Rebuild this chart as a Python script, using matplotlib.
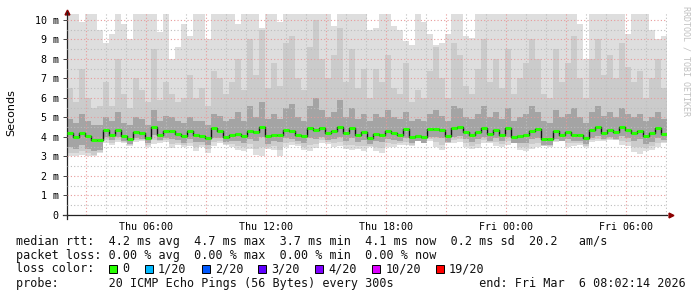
import numpy as np
import pandas as pd
import matplotlib
matplotlib.use("Agg")
import matplotlib.pyplot as plt
import matplotlib.dates as mdates
import matplotlib.ticker as ticker
from matplotlib.patches import Rectangle

# ping rtt in ms, one value per 18 min bin
med = [4.19, 3.98, 4.19, 4.05, 3.85, 3.87, 4.36, 4.12, 4.36, 4.05,
       3.90, 4.25, 4.22, 3.95, 4.50, 4.10, 4.33, 4.30, 4.15, 4.05,
       4.33, 4.10, 4.05, 3.95, 4.45,
       4.32, 4.02, 4.10, 4.15, 4.07, 4.32, 4.27, 4.53, 4.05, 4.12,
       4.10, 4.36, 4.32, 4.10, 4.05, 4.44, 4.36, 4.44, 4.22, 4.32,
       4.53, 4.19, 4.44, 4.10, 4.27,
       3.95, 4.15, 4.10, 4.32, 4.22, 4.10, 4.39, 4.02, 4.07, 3.98,
       4.39, 4.39, 4.36, 4.05, 4.44, 4.53, 4.27, 4.10, 4.27, 4.44,
       4.15, 4.36, 4.10, 4.44, 4.02,
       4.05, 4.08, 4.32, 4.42, 3.90, 3.88, 4.32, 4.10, 4.27, 4.10,
       4.10, 3.93, 4.36, 4.49, 4.22, 4.36, 4.27, 4.49, 4.36, 4.19,
       4.32, 4.05, 4.19, 4.44, 4.15]
low = [3.0, 3.05, 3.1, 3.05, 3.0, 3.2, 3.7, 3.6, 3.75, 3.7,
       3.55, 3.75, 3.8, 3.5, 3.65, 3.7, 3.75, 3.45, 3.6, 3.5,
       3.55, 3.3, 3.5, 3.2, 3.55,
       3.7, 3.6, 3.5, 3.35, 3.3, 3.4, 3.1, 3.0, 3.4, 3.35,
       3.0, 3.5, 3.6, 3.55, 3.35, 3.3, 3.45, 3.7, 3.65, 3.5,
       3.55, 3.4, 3.35, 3.4, 3.3,
       3.5, 3.3, 3.2, 3.5, 3.5, 3.6, 3.6, 3.55, 3.8, 3.75,
       3.8, 3.5, 3.35, 3.7, 3.7, 3.75, 3.5, 3.4, 3.45, 3.7,
       3.7, 3.55, 3.5, 3.6, 3.7,
       3.35, 3.3, 3.4, 3.5, 3.55, 3.5, 3.75, 3.8, 3.5, 3.55,
       3.6, 3.5, 3.75, 3.8, 3.8, 3.85, 3.85, 3.6, 3.55, 3.25,
       3.15, 3.3, 3.35, 3.5, 3.7]
q10 = [3.2, 3.2, 3.3, 3.2, 3.1, 3.25, 3.85, 3.7, 3.85, 3.75,
       3.6, 3.85, 3.85, 3.6, 3.85, 3.8, 3.85, 3.65, 3.7, 3.6,
       3.7, 3.5, 3.6, 3.4, 3.75,
       3.8, 3.65, 3.65, 3.55, 3.5, 3.65, 3.4, 3.5, 3.5, 3.55,
       3.35, 3.7, 3.75, 3.65, 3.5, 3.6, 3.65, 3.85, 3.75, 3.7,
       3.75, 3.6, 3.6, 3.55, 3.55,
       3.55, 3.5, 3.45, 3.7, 3.65, 3.7, 3.75, 3.6, 3.8, 3.75,
       3.9, 3.75, 3.6, 3.7, 3.85, 3.9, 3.7, 3.55, 3.65, 3.85,
       3.75, 3.75, 3.65, 3.8, 3.7,
       3.5, 3.5, 3.65, 3.7, 3.55, 3.55, 3.8, 3.8, 3.7, 3.7,
       3.7, 3.55, 3.85, 3.9, 3.85, 3.9, 3.85, 3.8, 3.75, 3.5,
       3.5, 3.45, 3.55, 3.7, 3.75]
q25 = [3.5, 3.4, 3.6, 3.4, 3.3, 3.35, 4.0, 3.85, 4.0, 3.8,
       3.65, 3.95, 3.9, 3.7, 4.1, 3.85, 3.95, 3.9, 3.85, 3.7,
       3.9, 3.75, 3.75, 3.6, 3.95,
       3.95, 3.75, 3.8, 3.8, 3.7, 3.9, 3.8, 4.0, 3.65, 3.8,
       3.75, 3.95, 3.9, 3.8, 3.7, 3.95, 3.9, 4.0, 3.85, 3.9,
       4.0, 3.8, 3.95, 3.75, 3.85,
       3.65, 3.8, 3.75, 3.9, 3.85, 3.8, 3.95, 3.7, 3.8, 3.7,
       4.0, 4.0, 3.95, 3.75, 4.0, 4.05, 3.9, 3.75, 3.9, 4.0,
       3.8, 3.95, 3.8, 4.0, 3.7,
       3.7, 3.7, 3.9, 3.95, 3.6, 3.6, 3.9, 3.8, 3.9, 3.8,
       3.8, 3.65, 3.95, 4.05, 3.9, 4.0, 3.9, 4.05, 3.95, 3.8,
       3.9, 3.65, 3.75, 3.95, 3.85]
q75 = [4.9, 4.7, 5.2, 4.8, 4.6, 4.6, 5.0, 4.8, 5.3, 4.7,
       4.6, 5.0, 4.9, 4.6, 5.4, 4.8, 5.1, 5.0, 4.8, 4.7,
       5.0, 4.8, 4.8, 4.6, 5.2,
       5.1, 4.8, 4.9, 5.3, 4.8, 5.6, 5.0, 5.8, 4.9, 5.2,
       4.9, 5.5, 5.7, 5.0, 4.8, 5.6, 6.0, 5.4, 5.0, 5.3,
       5.9, 5.0, 5.5, 4.9, 5.2,
       4.8, 5.2, 5.0, 5.4, 5.0, 4.9, 5.3, 4.8, 4.9, 4.8,
       5.2, 5.4, 5.1, 4.8, 5.6, 5.5, 5.0, 4.9, 5.2, 5.6,
       5.0, 5.3, 4.9, 5.5, 4.8,
       5.0, 5.2, 5.6, 5.3, 4.8, 4.7, 5.4, 5.0, 5.2, 5.5,
       5.0, 4.7, 5.3, 5.6, 5.1, 5.3, 5.0, 5.5, 5.2, 5.0,
       5.2, 4.8, 5.0, 5.3, 4.9]
q90 = [6.5, 5.8, 7.5, 6.0, 5.5, 5.6, 6.8, 5.6, 8.0, 6.2,
       5.5, 7.0, 6.4, 5.8, 8.5, 5.9, 6.8, 6.2, 5.8, 6.0,
       7.2, 6.0, 6.5, 5.6, 7.4,
       7.0, 6.2, 6.8, 8.0, 6.4, 9.0, 7.2, 9.5, 6.5, 7.8,
       6.6, 8.8, 9.2, 7.0, 6.4, 8.6, 10.0, 8.0, 7.0, 8.2,
       9.6, 6.8, 8.5, 6.5, 7.5,
       6.0, 7.5, 6.8, 8.2, 6.5, 6.2, 7.8, 5.8, 6.4, 6.0,
       7.4, 8.6, 7.0, 6.0, 8.8, 8.2, 6.6, 6.2, 7.5, 9.0,
       6.8, 8.0, 6.5, 8.5, 6.2,
       7.0, 7.8, 9.0, 8.0, 6.2, 6.0, 8.5, 6.8, 7.8, 9.2,
       7.0, 6.0, 8.0, 9.0, 7.2, 8.2, 7.0, 8.8, 7.6, 6.8,
       7.4, 6.0, 7.0, 8.0, 6.5]
high = [10.3, 10.3, 9.9, 10.3, 10.3, 9.5, 8.8, 9.3, 10.3, 9.8,
        9.0, 10.3, 10.3, 10.3, 10.3, 9.4, 10.3, 8.0, 8.6, 9.8,
        9.2, 10.3, 10.3, 9.0, 10.3,
        10.3, 10.3, 10.3, 9.8, 10.3, 10.3, 10.3, 9.6, 10.3, 10.3,
        9.9, 10.3, 10.3, 10.3, 10.3, 10.3, 10.3, 10.3, 10.3, 9.7,
        10.3, 10.3, 10.3, 10.3, 10.3,
        9.5, 9.6, 10.3, 10.3, 9.7, 9.5, 8.9, 8.7, 10.3, 9.9,
        9.3, 8.7, 8.8, 9.3, 10.3, 10.3, 9.2, 9.1, 10.3, 10.3,
        10.3, 10.3, 10.3, 10.3, 10.3,
        10.3, 10.3, 10.3, 10.3, 10.3, 10.3, 10.3, 10.3, 10.3, 10.3,
        9.8, 8.0, 10.3, 10.3, 10.3, 10.3, 10.3, 10.3, 9.3, 10.3,
        10.3, 10.3, 9.5, 9.0, 9.2]

start, end = "2026-03-05 02:02:14", "2026-03-06 08:02:14"
stats = ["median rtt:  4.2 ms avg  4.7 ms max  3.7 ms min  4.1 ms now  0.2 ms sd  20.2   am/s",
         "packet loss: 0.00 % avg  0.00 % max  0.00 % min  0.00 % now"]
loss_labels = ["0", "1/20", "2/20", "3/20", "4/20", "10/20", "19/20"]
loss_colors = ["#26ff00", "#00b8ff", "#0059ff", "#5e00ff", "#7e00ff", "#dd00ff", "#ff0000"]
probe = "probe:       20 ICMP Echo Pings (56 Bytes) every 300s            end: Fri Mar  6 08:02:14 2026"

t = pd.date_range(start, end, freq="18min").to_pydatetime()
W, H = 697, 297
fig = plt.figure(figsize=(W / 100, H / 100), dpi=100)
ax = fig.add_axes([67 / W, (H - 215) / H, 600 / W, 203 / H])

def st(a):
    return np.r_[a, a[-1]]

# smoke layers, lightest first
ax.fill_between(t, st(low), st(high), step="post", color="#dedede", lw=0, zorder=1)
ax.fill_between(t, st(q10), st(q90), step="post", color="#cbcbcb", lw=0, zorder=1)
ax.fill_between(t, st(q25), st(q75), step="post", color="#a4a4a4", lw=0, zorder=1)
ax.step(t, st(med), where="post", color="#111111", lw=1.0, zorder=3)
ax.hlines(med, t[:-1], t[1:], color="#26ff00", lw=2.2, zorder=4)

ax.set_xlim(t[0], t[-1])
ax.set_ylim(0, 10.41)
ax.xaxis.set_major_locator(mdates.HourLocator(byhour=range(0, 24, 3)))
ax.xaxis.set_minor_locator(mdates.HourLocator())
ax.xaxis.set_major_formatter(ticker.FuncFormatter(
    lambda x, p: mdates.num2date(x).strftime("%a %H:%M") if mdates.num2date(x).hour % 6 == 0 else ""))
ax.yaxis.set_major_locator(ticker.MultipleLocator(1))
ax.yaxis.set_minor_locator(ticker.MultipleLocator(0.5))
ax.yaxis.set_major_formatter(ticker.FuncFormatter(lambda v, p: "0" if v == 0 else f"{v:.0f} m"))

ax.set_axisbelow(False)
ax.grid(which="major", color="#e89a9a", ls=(0, (1, 2)), lw=0.8)
ax.grid(which="minor", color="#bdbdbd", ls=(0, (1, 2)), lw=0.8)
for s in ["top", "right"]:
    ax.spines[s].set_visible(False)
for s in ["left", "bottom"]:
    ax.spines[s].set_color("#222222")
    ax.spines[s].set_linewidth(0.9)
ax.tick_params(axis="y", which="major", length=3, width=0.7, color="#444444", pad=3)
ax.tick_params(axis="x", which="major", length=0, pad=5)
ax.tick_params(which="minor", length=0)
for lab in ax.get_xticklabels() + ax.get_yticklabels():
    lab.set_fontfamily("DejaVu Sans Mono")
    lab.set_fontsize(7.2)

# axis overhang and arrows
ax.plot([-0.007, 0], [0, 0], color="#222222", lw=0.9, transform=ax.transAxes, clip_on=False)
ax.plot([0, 0], [-0.02, 0], color="#222222", lw=0.9, transform=ax.transAxes, clip_on=False)
ax.plot([0], [1.0], marker="^", ms=3.5, color="#8b0000", transform=ax.transAxes, clip_on=False)
ax.plot([1.006], [0], marker=">", ms=3.5, color="#8b0000", transform=ax.transAxes, clip_on=False)

fig.text(11 / W, 1 - 113 / H, "Seconds", rotation=90, ha="center", va="center",
         fontsize=8, family="DejaVu Sans")
fig.text(686 / W, 1 - 6 / H, "RRDTOOL / TOBI OETIKER", rotation=270, ha="center", va="top",
         fontsize=6, family="DejaVu Sans Mono", color="#c0c0c0")

# legend block
cw = 7.1
def px(col):
    return (16 + col * cw) / W

mono = dict(family="DejaVu Sans Mono", fontsize=8.5, va="center", color="#111111")
fig.text(px(0), 1 - 241 / H, stats[0], **mono)
fig.text(px(0), 1 - 255 / H, stats[1], **mono)
fig.text(px(0), 1 - 269 / H, "loss color:", **mono)
col = 13
for lab, c in zip(loss_labels, loss_colors):
    fig.add_artist(Rectangle((px(col) + 1 / W, 1 - 273 / H), 8 / W, 8 / H, facecolor=c,
                             edgecolor="black", lw=0.7, transform=fig.transFigure))
    fig.text(px(col + 2), 1 - 269 / H, lab, **mono)
    col += len(lab) + 4
fig.text(px(0), 1 - 283 / H, probe, **mono)

fig.savefig("out.png", dpi=100)
